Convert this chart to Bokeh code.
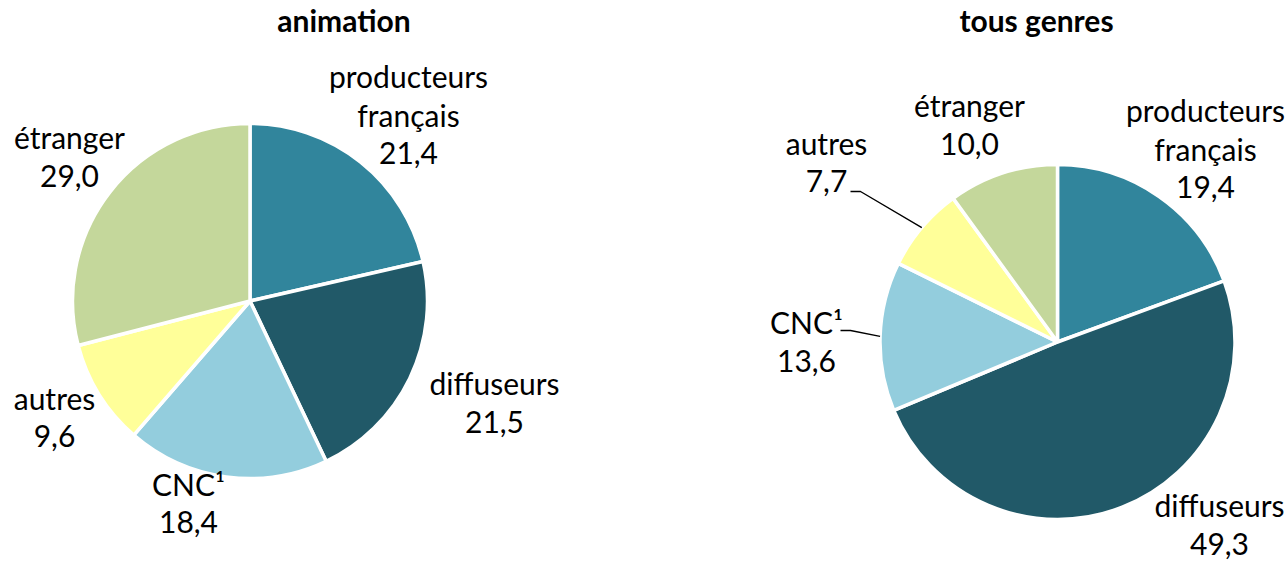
import numpy as np
from bokeh.plotting import figure
from bokeh.models import Range1d, ColumnDataSource
from bokeh.embed import file_html
from bokeh.resources import INLINE
from bokeh.core.properties import value

# ---- data ----
categories = ["producteurs français", "diffuseurs", "CNC¹", "autres", "étranger"]
animation = [21.4, 21.5, 18.4, 9.6, 29.0]
tous_genres = [19.4, 49.3, 13.6, 7.7, 10.0]
titles = ["animation", "tous genres"]
colors = ["#31859C", "#215968", "#93CDDD", "#FFFF99", "#C4D79B"]

# ---- layout (screen pixel helpers) ----
W, H = 1288, 561
TXT_DY = 10.5  # empirical baseline correction for text rendering


def sx(x):
    return x


def sy(y):
    return H - y


FONT = "Lato"
FS = 30
LH = 38.5

p = figure(width=W, height=H, x_range=Range1d(0, W), y_range=Range1d(0, H),
           output_backend="svg", toolbar_location=None, min_border=0)
p.axis.visible = False
p.grid.visible = False
p.outline_line_color = None
p.background_fill_color = "white"
p.border_fill_color = "white"


def fmt(v):
    return f"{v:.1f}".replace(".", ",")


def pie(vals, cx, cy, r):
    frac = np.array(vals) / sum(vals)
    cum = np.concatenate([[0.0], np.cumsum(frac)])
    start = np.pi / 2 - cum[:-1] * 2 * np.pi
    end = np.pi / 2 - cum[1:] * 2 * np.pi
    src = ColumnDataSource(dict(start=start, end=end, color=colors,
                                cat=categories, val=vals))
    p.wedge(x=sx(cx), y=sy(cy), radius=r, start_angle="start", end_angle="end",
            direction="clock", fill_color="color", line_color="white",
            line_width=3.5, source=src)
    mid = np.pi / 2 - (cum[:-1] + cum[1:]) / 2 * 2 * np.pi
    return mid


def labels(vals, positions):
    xs, ys, ts = [], [], []
    for cat, v, (lx, ly) in zip(categories, vals, positions):
        lines = cat.split(" ") + [fmt(v)]
        for k, t in enumerate(lines):
            xs.append(sx(lx))
            ys.append(sy(ly + k * LH - TXT_DY))
            ts.append(t)
    p.text(x=xs, y=ys, text=ts, text_align="center", text_baseline="alphabetic",
           text_font=value(FONT), text_font_size=f"{FS}px", text_color="black")


# left pie
cxL, cyL, R = 249.5, 300.5, 177.5
pie(animation, cxL, cyL, R)
labels(animation, [(408, 86), (494, 393), (188, 493.5), (54, 407.5), (69, 147)])

# right pie
cxR, cyR = 1057, 341.5
midR = pie(tous_genres, cxR, cyR, R)
labels(tous_genres, [(1205, 120), (1219, 515), (806, 332), (826, 152.5), (969, 115)])

# leader lines for small slices of right pie (autres, CNC)
for idx, (ex, ey) in [(3, (850, 191)), (2, (840, 330))]:
    ax = cxR + R * np.cos(midR[idx])
    ay = cyR - R * np.sin(midR[idx])
    p.line(x=[sx(ex), sx(ex + 10), sx(ax)], y=[sy(ey), sy(ey), sy(ay)],
           line_color="black", line_width=1.4)

# titles
p.text(x=[sx(343.5), sx(1036)], y=[sy(30 - TXT_DY), sy(30 - TXT_DY)], text=titles,
       text_align="center", text_baseline="alphabetic", text_font=value(FONT),
       text_font_style="bold", text_font_size="30px", text_color="black")

open("out.html", "w").write(file_html(p, INLINE))
